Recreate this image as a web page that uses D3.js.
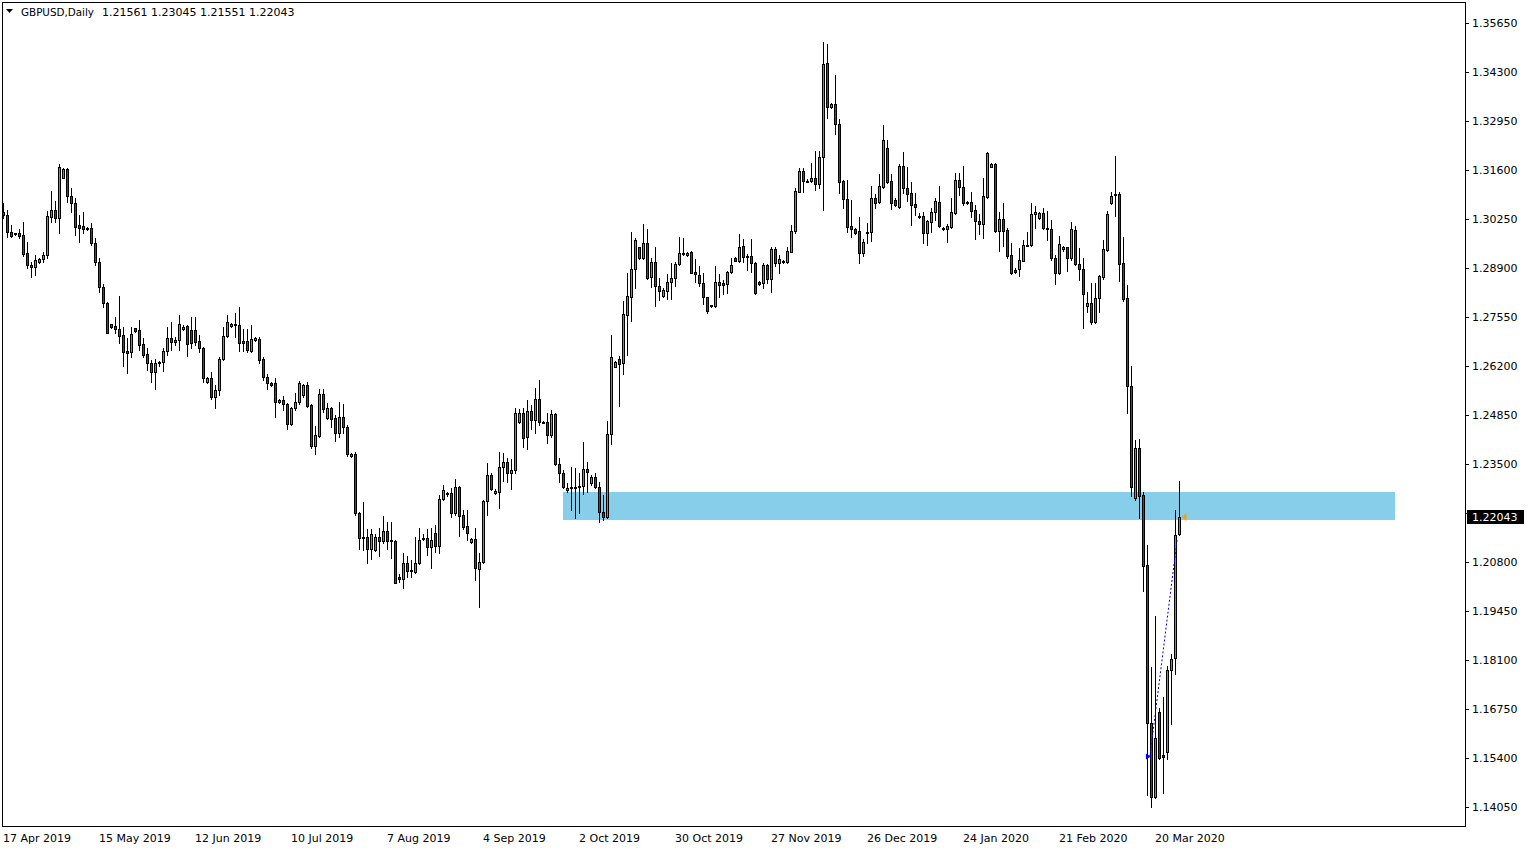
<!DOCTYPE html>
<html>
<head>
<meta charset="utf-8">
<script src="https://cdnjs.cloudflare.com/ajax/libs/d3/7.8.5/d3.min.js"></script>
<style>
body { margin: 0; background: #fff; }
text { font-family: "DejaVu Sans", sans-serif; font-size: 11px; fill: #000; }
</style>
</head>
<body>
<div id="chart"></div>
<script>
// GBPUSD daily bars (one bar per trading day incl. Sunday bars)
const symbolTitle = "GBPUSD,Daily";

const openVals = [
  1.3044,1.3036,1.2989,1.2984,1.2986,1.2981,1.2931,1.2898,1.2893,1.2907,
  1.2915,1.2926,1.3031,1.3050,1.3028,1.3138,1.3163,1.3088,1.3069,1.3009,
  1.3006,1.3000,1.3000,1.2959,1.2907,1.2838,1.2794,1.2736,1.2730,1.2722,
  1.2705,1.2661,1.2659,1.2725,1.2719,1.2681,1.2653,1.2628,1.2604,1.2631,
  1.2631,1.2661,1.2697,1.2686,1.2692,1.2722,1.2730,1.2719,1.2719,1.2689,
  1.2670,1.2576,1.2587,1.2535,1.2554,1.2639,1.2703,1.2730,1.2736,1.2733,
  1.2689,1.2689,1.2661,1.2692,1.2694,1.2639,1.2590,1.2573,1.2573,1.2521,
  1.2526,1.2515,1.2460,1.2504,1.2521,1.2540,1.2568,1.2512,1.2400,1.2427,
  1.2543,1.2477,1.2504,1.2477,1.2435,1.2480,1.2452,1.2372,1.2378,1.2215,
  1.2149,1.2149,1.2116,1.2113,1.2149,1.2138,1.2166,1.2141,1.2138,1.2039,
  1.2033,1.2077,1.2058,1.2053,1.2077,1.2146,1.2146,1.2121,1.2160,1.2124,
  1.2254,1.2270,1.2270,1.2215,1.2287,1.2210,1.2179,1.2135,1.2143,1.2061,
  1.2080,1.2248,1.2320,1.2270,1.2273,1.2342,1.2356,1.2325,1.2334,1.2466,
  1.2491,1.2424,1.2496,1.2471,1.2529,1.2466,1.2466,1.2430,1.2488,1.2350,
  1.2325,1.2278,1.2287,1.2287,1.2287,1.2289,1.2336,1.2298,1.2314,1.2287,
  1.2218,1.2204,1.2433,1.2617,1.2639,1.2628,1.2761,1.2810,1.2887,1.2948,
  1.2918,1.2959,1.2865,1.2907,1.2840,1.2813,1.2827,1.2851,1.2862,1.2901,
  1.2931,1.2926,1.2934,1.2879,1.2871,1.2848,1.2810,1.2788,1.2785,1.2851,
  1.2848,1.2846,1.2879,1.2918,1.2910,1.2951,1.2923,1.2923,1.2904,1.2851,
  1.2848,1.2898,1.2860,1.2942,1.2904,1.2910,1.2907,1.2934,1.2992,1.3099,
  1.3157,1.3130,1.3130,1.3138,1.3122,1.3196,1.3455,1.3334,1.3342,1.3287,
  1.3130,1.3080,1.3006,1.2997,1.2992,1.2931,1.2989,1.2989,1.3083,1.3072,
  1.3113,1.3221,1.3130,1.3077,1.3058,1.3171,1.3110,1.3097,1.3066,1.3033,
  1.3033,1.2986,1.3017,1.3044,1.3072,1.3000,1.2997,1.3003,1.3042,1.3132,
  1.3113,1.3072,1.3072,1.3050,1.3020,1.3011,1.3085,1.3168,1.3177,1.2992,
  1.3025,1.2995,1.2926,1.2885,1.2887,1.2910,1.2953,1.2953,1.3039,1.3028,
  1.3042,1.3000,1.2997,1.2918,1.2876,1.2942,1.2948,1.2918,1.2995,1.2901,
  1.2887,1.2785,1.2794,1.2741,1.2807,1.2865,1.2940,1.3069,1.3091,1.3094,
  1.2904,1.2807,1.2565,1.2256,1.2394,1.2265,1.2072,1.1637,1.1433,1.1667,
  1.1548,1.1557,1.1783,1.1816,1.21561
];
const highVals = [
  1.3069,1.3050,1.3009,1.2987,1.2997,1.3017,1.2962,1.2907,1.2926,1.2918,
  1.2934,1.3047,1.3102,1.3075,1.3177,1.3165,1.3165,1.3110,1.3083,1.3036,
  1.3044,1.3003,1.3014,1.2973,1.2918,1.2846,1.2797,1.2736,1.2755,1.2813,
  1.2728,1.2697,1.2728,1.2725,1.2747,1.2697,1.2670,1.2637,1.2639,1.2634,
  1.2670,1.2728,1.2741,1.2700,1.2761,1.2733,1.2733,1.2755,1.2755,1.2705,
  1.2672,1.2590,1.2604,1.2568,1.2645,1.2728,1.2761,1.2739,1.2766,1.2783,
  1.2722,1.2722,1.2733,1.2700,1.2700,1.2645,1.2598,1.2576,1.2587,1.2529,
  1.2537,1.2518,1.2507,1.2546,1.2579,1.2571,1.2576,1.2515,1.2455,1.2557,
  1.2557,1.2518,1.2507,1.2485,1.2521,1.2515,1.2458,1.2380,1.2383,1.2218,
  1.2245,1.2171,1.2171,1.2157,1.2174,1.2207,1.2190,1.2190,1.2141,1.2047,
  1.2105,1.2097,1.2086,1.2149,1.2174,1.2157,1.2171,1.2174,1.2182,1.2265,
  1.2292,1.2273,1.2284,1.2309,1.2289,1.2223,1.2223,1.2146,1.2174,1.2105,
  1.2251,1.2353,1.2325,1.2281,1.2383,1.2380,1.2367,1.2364,1.2504,1.2502,
  1.2504,1.2526,1.2512,1.2560,1.2582,1.2469,1.2491,1.2499,1.2491,1.2367,
  1.2334,1.2298,1.2342,1.2339,1.2325,1.2411,1.2356,1.2320,1.2325,1.2300,
  1.2265,1.2469,1.2705,1.2634,1.2648,1.2799,1.2876,1.2989,1.2973,1.2948,
  1.3011,1.2997,1.2918,1.2948,1.2862,1.2835,1.2873,1.2904,1.2907,1.2975,
  1.2973,1.2934,1.2937,1.2915,1.2895,1.2876,1.2810,1.2788,1.2895,1.2873,
  1.2857,1.2882,1.2918,1.2920,1.2984,1.2970,1.2929,1.2970,1.2907,1.2853,
  1.2904,1.2901,1.2948,1.2948,1.2926,1.2912,1.2948,1.3009,1.3110,1.3165,
  1.3165,1.3135,1.3179,1.3212,1.3212,1.3513,1.3507,1.3344,1.3422,1.3301,
  1.3132,1.3132,1.3077,1.3000,1.3031,1.2970,1.3014,1.3116,1.3094,1.3149,
  1.3284,1.3243,1.3149,1.3083,1.3177,1.3209,1.3168,1.3127,1.3097,1.3042,
  1.3044,1.3022,1.3055,1.3083,1.3116,1.3003,1.3011,1.3083,1.3152,1.3152,
  1.3171,1.3075,1.3099,1.3064,1.3039,1.3138,1.3209,1.3179,1.3179,1.3044,
  1.3069,1.3000,1.2959,1.2890,1.2945,1.2967,1.2989,1.3069,1.3061,1.3044,
  1.3055,1.3047,1.3022,1.2926,1.2978,1.2951,1.2948,1.3017,1.3006,1.2945,
  1.2918,1.2824,1.2848,1.2848,1.2871,1.2967,1.3047,1.3099,1.3199,1.3099,
  1.2975,1.2843,1.2620,1.2416,1.2419,1.2273,1.2127,1.1791,1.1931,1.1678,
  1.1708,1.1793,1.1827,1.2223,1.23045
];
const lowVals = [
  1.3028,1.2975,1.2975,1.2981,1.2973,1.2923,1.2890,1.2865,1.2871,1.2904,
  1.2907,1.2918,1.3017,1.3017,1.2986,1.3138,1.3072,1.3044,1.2981,1.2962,
  1.2986,1.2995,1.2953,1.2898,1.2824,1.2783,1.2711,1.2725,1.2711,1.2683,
  1.2620,1.2601,1.2645,1.2714,1.2664,1.2645,1.2609,1.2576,1.2557,1.2620,
  1.2606,1.2650,1.2664,1.2678,1.2664,1.2719,1.2648,1.2670,1.2678,1.2659,
  1.2576,1.2573,1.2529,1.2504,1.2540,1.2637,1.2700,1.2728,1.2700,1.2661,
  1.2661,1.2659,1.2659,1.2689,1.2628,1.2582,1.2557,1.2565,1.2480,1.2518,
  1.2499,1.2446,1.2458,1.2499,1.2515,1.2535,1.2507,1.2394,1.2378,1.2424,
  1.2493,1.2474,1.2452,1.2413,1.2424,1.2435,1.2372,1.2370,1.2210,1.2116,
  1.2113,1.2077,1.2088,1.2110,1.2097,1.2132,1.2116,1.2091,1.2022,1.2025,
  1.2008,1.2039,1.2039,1.2050,1.2075,1.2141,1.2099,1.2064,1.2108,1.2105,
  1.2251,1.2262,1.2204,1.2210,1.2152,1.2171,1.2141,1.2132,1.2031,1.1956,
  1.2077,1.2210,1.2278,1.2267,1.2229,1.2303,1.2300,1.2281,1.2325,1.2463,
  1.2397,1.2391,1.2446,1.2435,1.2458,1.2463,1.2408,1.2424,1.2347,1.2300,
  1.2284,1.2273,1.2223,1.2201,1.2215,1.2267,1.2273,1.2292,1.2284,1.2190,
  1.2196,1.2201,1.2405,1.2617,1.2510,1.2598,1.2650,1.2744,1.2835,1.2915,
  1.2915,1.2860,1.2838,1.2785,1.2802,1.2810,1.2805,1.2805,1.2840,1.2898,
  1.2926,1.2923,1.2876,1.2851,1.2840,1.2791,1.2766,1.2783,1.2783,1.2810,
  1.2818,1.2821,1.2876,1.2908,1.2907,1.2907,1.2885,1.2879,1.2818,1.2844,
  1.2835,1.2848,1.2824,1.2895,1.2876,1.2904,1.2904,1.2934,1.2986,1.3099,
  1.3099,1.3127,1.3127,1.3105,1.3110,1.3050,1.3303,1.3332,1.3259,1.3097,
  1.3055,1.2989,1.2975,1.2984,1.2904,1.2923,1.2959,1.2964,1.3055,1.3069,
  1.3110,1.3124,1.3053,1.3061,1.3055,1.3097,1.3075,1.3009,1.3036,1.3028,
  1.2959,1.2953,1.2989,1.3022,1.3003,1.2995,1.2962,1.3000,1.3039,1.3091,
  1.3064,1.3066,1.3031,1.2970,1.2984,1.2973,1.3083,1.3168,1.2989,1.2937,
  1.2951,1.2918,1.2874,1.2877,1.2868,1.2910,1.2951,1.2951,1.3000,1.3025,
  1.2998,1.2967,1.2912,1.2846,1.2873,1.2937,1.2882,1.2912,1.2898,1.2857,
  1.2725,1.2769,1.2736,1.2739,1.2769,1.2860,1.2937,1.3066,1.3033,1.2854,
  1.2799,1.2491,1.2262,1.2251,1.2201,1.2000,1.1438,1.1405,1.1430,1.1537,
  1.1444,1.1537,1.1634,1.1771,1.21551
];
const closeVals = [
  1.3036,1.2989,1.2978,1.2986,1.2978,1.2929,1.2898,1.2893,1.2912,1.2915,
  1.2926,1.3033,1.3050,1.3028,1.3168,1.3163,1.3088,1.3069,1.3003,1.3000,
  1.2997,1.2997,1.2959,1.2907,1.2838,1.2794,1.2711,1.2728,1.2722,1.2703,
  1.2659,1.2656,1.2708,1.2717,1.2678,1.2650,1.2628,1.2604,1.2628,1.2632,
  1.2661,1.2697,1.2686,1.2692,1.2736,1.2728,1.2681,1.2683,1.2686,1.2670,
  1.2587,1.2587,1.2535,1.2554,1.2639,1.2703,1.2741,1.2736,1.2733,1.2683,
  1.2683,1.2664,1.2694,1.2697,1.2637,1.2590,1.2573,1.2568,1.2521,1.2526,
  1.2515,1.2460,1.2504,1.2521,1.2573,1.2568,1.2510,1.2400,1.2430,1.2543,
  1.2502,1.2504,1.2474,1.2435,1.2480,1.2452,1.2378,1.2378,1.2215,1.2146,
  1.2146,1.2116,1.2157,1.2149,1.2138,1.2166,1.2138,1.2138,1.2022,1.2033,
  1.2077,1.2055,1.2057,1.2077,1.2141,1.2147,1.2121,1.2141,1.2124,1.2254,
  1.2278,1.2271,1.2215,1.2287,1.2207,1.2177,1.2160,1.2143,1.2064,1.2080,
  1.2248,1.2320,1.2281,1.2276,1.2342,1.2356,1.2325,1.2334,1.2491,1.2491,
  1.2422,1.2496,1.2471,1.2529,1.2466,1.2465,1.2430,1.2488,1.2350,1.2325,
  1.2287,1.2284,1.2288,1.2284,1.2290,1.2336,1.2328,1.2314,1.2287,1.2218,
  1.2204,1.2433,1.2645,1.2631,1.2626,1.2763,1.2813,1.2887,1.2967,1.2918,
  1.2959,1.2862,1.2907,1.2840,1.2827,1.2829,1.2851,1.2862,1.2901,1.2931,
  1.2932,1.2931,1.2876,1.2873,1.2848,1.2810,1.2771,1.2785,1.2851,1.2843,
  1.2843,1.2879,1.2898,1.2910,1.2948,1.2920,1.2922,1.2904,1.2821,1.2846,
  1.2898,1.2860,1.2942,1.2904,1.2915,1.2907,1.2937,1.2992,1.3102,1.3157,
  1.3130,1.3131,1.3138,1.3122,1.3196,1.3452,1.3334,1.3342,1.3287,1.3127,
  1.3080,1.3003,1.2997,1.2986,1.2931,1.2962,1.2990,1.3083,1.3069,1.3116,
  1.3243,1.3127,1.3069,1.3063,1.3171,1.3110,1.3094,1.3063,1.3058,1.3034,
  1.2986,1.3020,1.3044,1.3075,1.3006,1.3001,1.3006,1.3044,1.3132,1.3113,
  1.3069,1.3069,1.3047,1.3020,1.3011,1.3088,1.3207,1.3177,1.2992,1.3025,
  1.2992,1.2923,1.2876,1.2879,1.2912,1.2953,1.2954,1.3039,1.3044,1.3042,
  1.3000,1.2997,1.2918,1.2876,1.2956,1.2948,1.2918,1.2997,1.2901,1.2887,
  1.2818,1.2794,1.2741,1.2807,1.2868,1.2942,1.3039,1.3088,1.3094,1.2901,
  1.2805,1.2565,1.2287,1.2394,1.2262,1.2069,1.1637,1.1433,1.1595,1.1540,
  1.1543,1.1782,1.1813,1.2154,1.22043
];

// bottom axis: bar index of each date label
const dateTickIdx = [0, 24, 48, 72, 96, 120, 144, 168, 192, 216, 240, 264, 288];
const dateTickLabels = ["17 Apr 2019","15 May 2019","12 Jun 2019","10 Jul 2019","7 Aug 2019",
  "4 Sep 2019","2 Oct 2019","30 Oct 2019","27 Nov 2019","26 Dec 2019","24 Jan 2020",
  "21 Feb 2020","20 Mar 2020"];

const priceTicks = [1.35650,1.34300,1.32950,1.31600,1.30250,1.28900,1.27550,1.26200,1.24850,
  1.23500,1.22150,1.20800,1.19450,1.18100,1.16750,1.15400,1.14050];

// support/resistance rectangle (bar index range, price range)
const zoneIdx = [139.9, 347.9];
const zonePrice = [1.2273, 1.2196];

// trade history line: [bar index, price]
const tradeLine = [[286.6, 1.1544], [293.4, 1.2141]];

const W = 1530, H = 850;
const plot = { left: 2, top: 2, right: 1465, bottom: 826 };

const bars = openVals.map((o, i) => ({ i, o, h: highVals[i], l: lowVals[i], c: closeVals[i] }));

const x = d3.scaleLinear().domain([0, 1]).range([3.5, 7.5]);
const y = d3.scaleLinear().domain([1.14050, 1.35650]).range([807, 23]);
const fmt = d3.format(".5f");

const svg = d3.select("#chart").append("svg")
  .attr("width", W).attr("height", H)
  .style("display", "block");

svg.append("rect").attr("width", W).attr("height", H).attr("fill", "#fff");

svg.append("clipPath").attr("id", "plotClip")
  .append("rect")
  .attr("x", plot.left).attr("y", plot.top)
  .attr("width", plot.right - plot.left).attr("height", plot.bottom - plot.top);

const gPlot = svg.append("g").attr("clip-path", "url(#plotClip)");

// blue zone
gPlot.append("rect")
  .attr("x", Math.round(x(zoneIdx[0])))
  .attr("y", Math.round(y(zonePrice[0])))
  .attr("width", Math.round(x(zoneIdx[1])) - Math.round(x(zoneIdx[0])))
  .attr("height", Math.round(y(zonePrice[1])) - Math.round(y(zonePrice[0])))
  .attr("fill", "#87ceeb");

// candles
const gC = gPlot.append("g").attr("shape-rendering", "crispEdges");
gC.selectAll("line.wick").data(bars).join("line")
  .attr("class", "wick")
  .attr("x1", d => x(d.i)).attr("x2", d => x(d.i))
  .attr("y1", d => Math.round(y(d.h))).attr("y2", d => Math.round(y(d.l)) + 1)
  .attr("stroke", "#000").attr("stroke-width", 1);

gC.selectAll("rect.body").data(bars).join("rect")
  .attr("class", "body")
  .attr("x", d => x(d.i) - 1)
  .attr("y", d => Math.round(y(Math.max(d.o, d.c))) + 0.5)
  .attr("width", 2)
  .attr("height", d => Math.max(1, Math.round(y(Math.min(d.o, d.c))) - Math.round(y(Math.max(d.o, d.c)))))
  .attr("fill", d => d.c >= d.o ? "#22cc22" : "#cc1111")
  .attr("stroke", "#000").attr("stroke-width", 1);

// trade line + arrows
gPlot.append("line")
  .attr("x1", x(tradeLine[0][0])).attr("y1", y(tradeLine[0][1]))
  .attr("x2", x(tradeLine[1][0])).attr("y2", y(tradeLine[1][1]))
  .attr("stroke", "#0000ff").attr("stroke-width", 1).attr("stroke-dasharray", "2,2");

const bx = x(tradeLine[0][0]) - 1, by = y(tradeLine[0][1]);
gPlot.append("path")
  .attr("d", `M${bx - 3},${by - 3}L${bx + 2},${by}L${bx - 3},${by + 3}Z`)
  .attr("fill", "#0000ff");

const last = bars[bars.length - 1];
const ox = x(last.i) + 2, oy = y(last.c);
gPlot.append("path")
  .attr("d", `M${ox},${oy}L${ox + 5},${oy - 4}L${ox + 5},${oy + 4}Z`)
  .attr("fill", "#f0a020");

// frame
svg.append("rect")
  .attr("x", plot.left + 0.5).attr("y", plot.top + 0.5)
  .attr("width", plot.right - plot.left).attr("height", plot.bottom - plot.top)
  .attr("fill", "none").attr("stroke", "#000").attr("shape-rendering", "crispEdges");

// right price axis
const lastY = y(last.c);
const gY = svg.append("g").attr("shape-rendering", "crispEdges");
gY.selectAll("line").data(priceTicks).join("line")
  .attr("x1", plot.right).attr("x2", plot.right + 4)
  .attr("y1", d => Math.round(y(d)) + 0.5).attr("y2", d => Math.round(y(d)) + 0.5)
  .attr("stroke", "#000");
gY.selectAll("text").data(priceTicks.filter(d => Math.abs(y(d) - lastY) > 12)).join("text")
  .attr("x", plot.right + 7)
  .attr("y", d => Math.round(y(d)) + 4)
  .text(d => fmt(d));

// current price label
const gPrice = svg.append("g");
gPrice.append("rect")
  .attr("x", plot.right + 2).attr("y", Math.round(lastY) - 7)
  .attr("width", 57).attr("height", 14).attr("fill", "#000");
gPrice.append("text")
  .attr("x", plot.right + 7).attr("y", Math.round(lastY) + 4)
  .style("fill", "#fff")
  .text(fmt(last.c));

// bottom date axis
const gX = svg.append("g");
gX.selectAll("text").data(dateTickIdx).join("text")
  .attr("x", d => x(d) - 0.5)
  .attr("y", plot.bottom + 16)
  .text((d, i) => dateTickLabels[i]);

// header
svg.append("path").attr("d", "M6,9L13,9L9.5,13Z").attr("fill", "#000");
svg.append("text")
  .attr("x", 21).attr("y", 16)
  .attr("textLength", 73).attr("lengthAdjust", "spacingAndGlyphs")
  .text(symbolTitle);
svg.append("text")
  .attr("x", 102).attr("y", 16)
  .attr("xml:space", "preserve")
  .style("white-space", "pre")
  .text(`${fmt(last.o)} ${fmt(last.h)} ${fmt(last.l)} ${fmt(last.c)}`);
</script>
</body>
</html>
